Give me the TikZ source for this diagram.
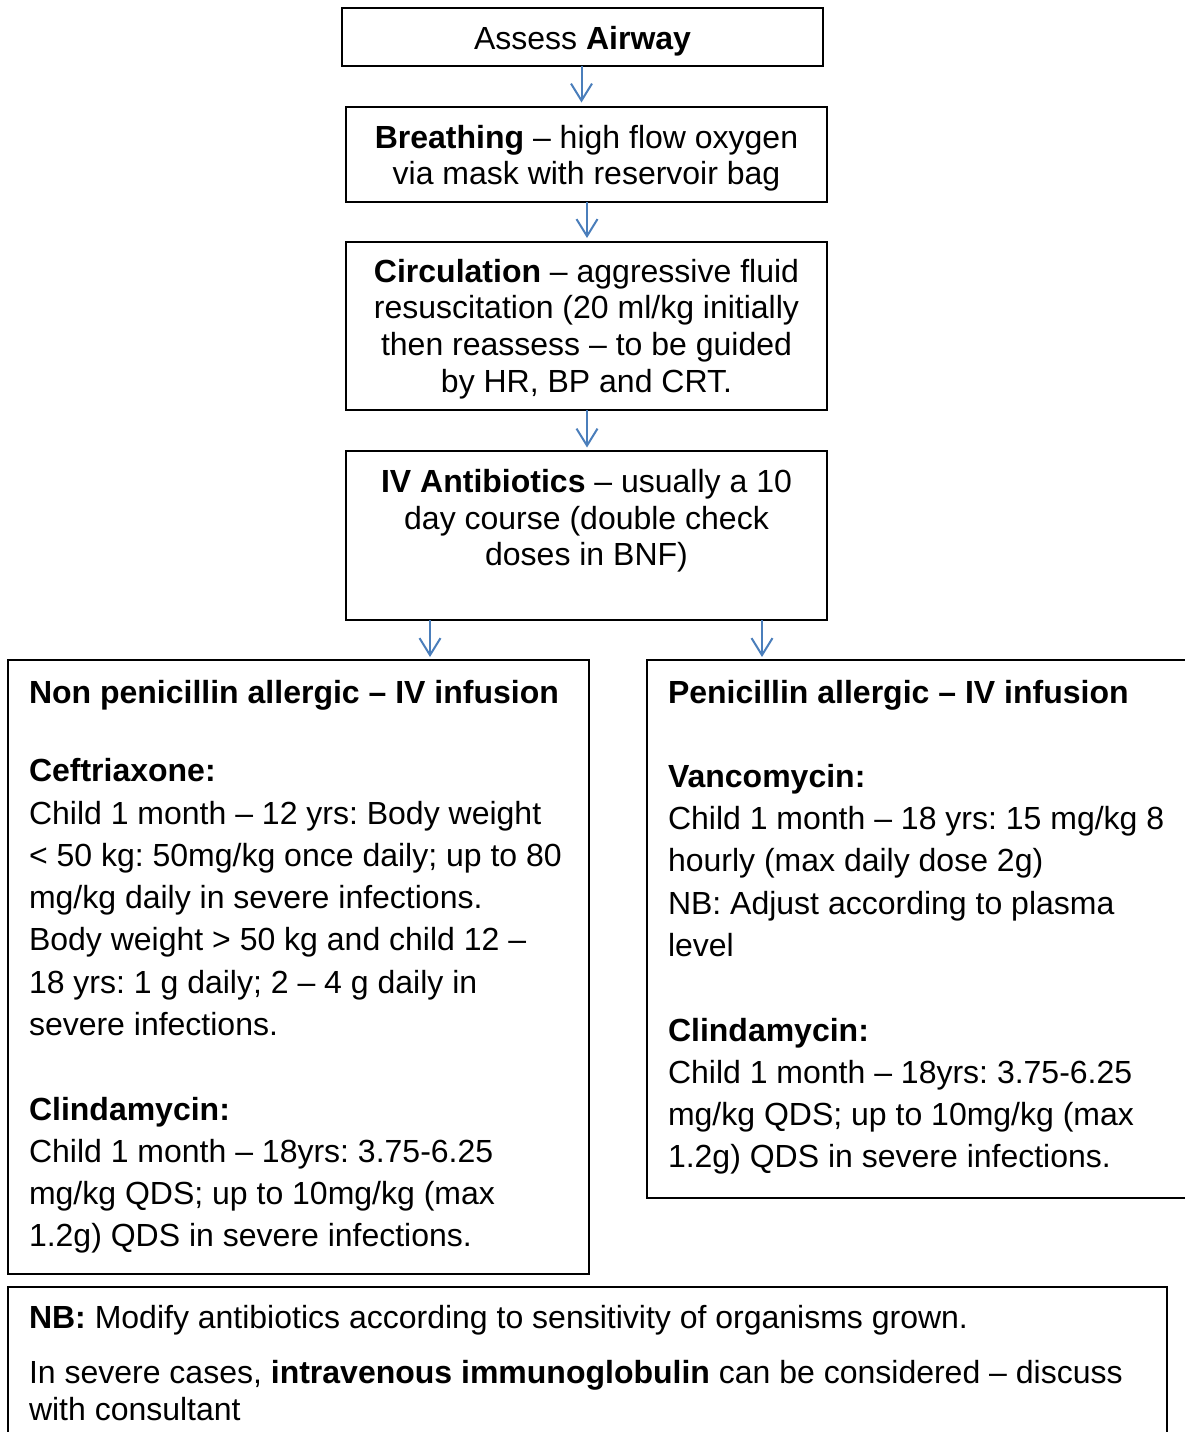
\documentclass[tikz,border=0pt]{standalone}
\usepackage{fontspec}
\setmainfont{Liberation Sans}
\usetikzlibrary{arrows.meta}
\definecolor{arrowblue}{RGB}{74,126,187}
\frenchspacing
\begin{document}
\begin{tikzpicture}[x=1pt,y=-1pt,
  box/.style={draw=black,line width=2pt,inner sep=0pt,outer sep=0pt},
  txt/.style={inner sep=0pt,outer sep=0pt,font=\fontsize{32}{36.8}\selectfont},
  ln/.style={txt,anchor=base west},
  cl/.style={txt,anchor=base},
  arr/.style={draw=arrowblue,line width=2pt,-{Straight Barb[length=17pt,width=21pt]}}]
\useasboundingbox (0,0) rectangle (1185,1432);
\clip (0,0) rectangle (1185,1432);
% boxes
\node[box,minimum width=481pt,minimum height=58pt] (airway) at (582.5,37) {};
\node[box,minimum width=481pt,minimum height=95pt] (breath) at (586.5,154.5) {};
\node[box,minimum width=481pt,minimum height=168pt] (circ) at (586.5,326) {};
\node[box,minimum width=481pt,minimum height=169pt] (anti) at (586.5,535.5) {};
\node[box,minimum width=581pt,minimum height=614pt] (nonpen) at (298.5,967) {};
\node[box,minimum width=548pt,minimum height=538pt] (pen) at (921,929) {};
\node[box,minimum width=1159pt,minimum height=158pt] (nb) at (587.5,1366) {};
% texts
\node[cl] (t1) at (582.5,49.5) {Assess \textbf{Airway}};
\node[cl] (t2a) at (586.5,148.5) {\textbf{Breathing} – high flow oxygen};
\node[cl] (t2b) at (586.5,184.5) {via mask with reservoir bag};
\node[cl] (t3a) at (586.5,282) {\textbf{Circulation} – aggressive fluid};
\node[cl] (t3b) at (586.5,318.7) {resuscitation (20 ml/kg initially};
\node[cl] (t3c) at (586.5,355.4) {then reassess – to be guided};
\node[cl] (t3d) at (586.5,392) {by HR, BP and CRT.};
\node[cl] (t4a) at (586.5,492.3) {\textbf{IV Antibiotics} – usually a 10};
\node[cl] (t4b) at (586.5,529) {day course (double check};
\node[cl] (t4c) at (586.5,565.5) {doses in BNF)};
% left box
\node[ln] (l1) at (29,703) {\textbf{Non penicillin allergic – IV infusion}};
\node[ln] (l2) at (29,781.5) {\textbf{Ceftriaxone:}};
\node[ln] (l3) at (29,824) {Child 1 month – 12 yrs: Body weight};
\node[ln] (l4) at (29,866.3) {< 50 kg: 50mg/kg once daily; up to 80};
\node[ln] (l5) at (29,908.6) {mg/kg daily in severe infections.};
\node[ln] (l6) at (29,950.9) {Body weight > 50 kg and child 12 –};
\node[ln] (l7) at (29,993.2) {18 yrs: 1 g daily; 2 – 4 g daily in};
\node[ln] (l8) at (29,1035.5) {severe infections.};
\node[ln] (l9) at (29,1120) {\textbf{Clindamycin:}};
\node[ln] (l10) at (29,1162.3) {Child 1 month – 18yrs: 3.75-6.25};
\node[ln] (l11) at (29,1204.6) {mg/kg QDS; up to 10mg/kg (max};
\node[ln] (l12) at (29,1246.9) {1.2g) QDS in severe infections.};
% right box
\node[ln] (r1) at (668,703) {\textbf{Penicillin allergic – IV infusion}};
\node[ln] (r2) at (668,787.2) {\textbf{Vancomycin:}};
\node[ln] (r3) at (668,829.5) {Child 1 month – 18 yrs: 15 mg/kg 8};
\node[ln] (r4) at (668,871.8) {hourly (max daily dose 2g)};
\node[ln] (r5) at (668,914.1) {NB: Adjust according to plasma};
\node[ln] (r6) at (668,956.4) {level};
\node[ln] (r7) at (668,1041) {\textbf{Clindamycin:}};
\node[ln] (r8) at (668,1083.3) {Child 1 month – 18yrs: 3.75-6.25};
\node[ln] (r9) at (668,1125.6) {mg/kg QDS; up to 10mg/kg (max};
\node[ln] (r10) at (668,1167.9) {1.2g) QDS in severe infections.};
% bottom box
\node[ln] (b1) at (29,1328) {\textbf{NB:} Modify antibiotics according to sensitivity of organisms grown.};
\node[ln] (b2) at (29,1383) {In severe cases, \textbf{intravenous immunoglobulin} can be considered – discuss};
\node[ln] (b3) at (29,1420) {with consultant};
% arrows
\draw[arr,shorten >=4.5pt] ([xshift=-1pt]airway.south) -- ([xshift=-1pt]airway.south |- breath.north);
\draw[arr,shorten >=4pt] ([xshift=0.5pt]breath.south) -- ([xshift=0.5pt]breath.south |- circ.north);
\draw[arr,shorten >=3.5pt] ([xshift=0.5pt]circ.south) -- ([xshift=0.5pt]circ.south |- anti.north);
\draw[arr,shorten >=3pt] ([xshift=-156.5pt]anti.south) -- ([xshift=-156.5pt]anti.south |- nonpen.north);
\draw[arr,shorten >=3pt] ([xshift=175.5pt]anti.south) -- ([xshift=175.5pt]anti.south |- pen.north);
\end{tikzpicture}
\end{document}
